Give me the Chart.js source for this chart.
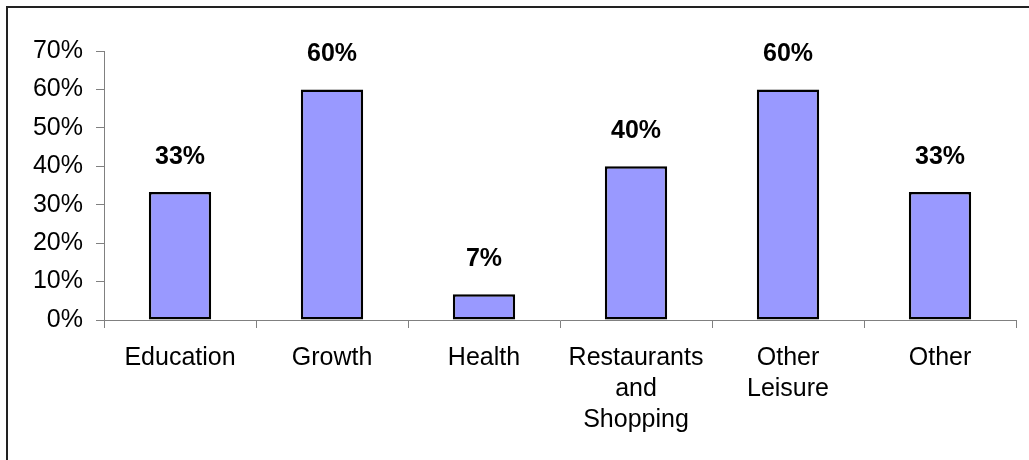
<!DOCTYPE html>
<html>
<head>
<meta charset="utf-8">
<title>Share by category</title>
<script src="https://cdn.jsdelivr.net/npm/chart.js@4/dist/chart.umd.min.js"></script>
<style>
  html, body { margin: 0; padding: 0; background: #fff; }
  canvas { display: block; }
</style>
</head>
<body>
<canvas id="chart" width="1029" height="460"></canvas>
<script>
// categories and percentages
const categories = ['Education', 'Growth', 'Health', ['Restaurants', 'and', 'Shopping'], ['Other', 'Leisure'], 'Other'];
const shares = [33.3, 60, 6.7, 40, 60, 33.3];
const yTicks = [0, 10, 20, 30, 40, 50, 60, 70];

const FONT = '"Liberation Sans", Arial, sans-serif';

// frame around the whole chart
const framePlugin = {
    id: 'frame',
    beforeDraw(chart) {
        const c = chart.ctx;
        c.save();
        c.fillStyle = '#fff';
        c.fillRect(0, 0, chart.width, chart.height);
        c.strokeStyle = '#222';
        c.lineWidth = 2;
        c.strokeRect(7, 7, chart.width + 20, chart.height + 20);
        c.restore();
    }
};

// bold percentage over each bar
const valueLabels = {
    id: 'valueLabels',
    afterDatasetsDraw(chart) {
        const c = chart.ctx;
        const meta = chart.getDatasetMeta(0);
        c.save();
        c.font = 'bold 25px ' + FONT;
        c.fillStyle = '#000';
        c.textAlign = 'center';
        c.textBaseline = 'middle';
        meta.data.forEach((bar, i) => {
            c.fillText(Math.round(shares[i]) + '%', bar.x, bar.y - 35);
        });
        c.restore();
    }
};

new Chart(document.getElementById('chart'), {
    type: 'bar',
    data: {
        labels: categories,
        datasets: [{
            data: shares,
            backgroundColor: '#9999FF',
            borderColor: '#000',
            borderWidth: 2.5,
            borderSkipped: false,
            barPercentage: 0.41,
            categoryPercentage: 1
        }]
    },
    options: {
        responsive: false,
        animation: false,
        layout: { padding: { top: 51, right: 13, left: 0, bottom: 0 } },
        plugins: {
            legend: { display: false },
            tooltip: { enabled: false }
        },
        scales: {
            y: {
                min: 0,
                max: 70,
                afterFit(scale) { scale.width = 104; },
                afterBuildTicks(scale) { scale.ticks = yTicks.map(v => ({ value: v })); },
                border: { color: '#808080', width: 1 },
                grid: { drawOnChartArea: false, drawTicks: true, tickLength: 8, color: '#808080' },
                ticks: {
                    padding: 13,
                    color: '#000',
                    font: { family: FONT, size: 25 },
                    callback: v => v + '%'
                }
            },
            x: {
                afterFit(scale) { scale.height = 140; },
                border: { color: '#808080', width: 1 },
                grid: { offset: true, drawOnChartArea: false, drawTicks: true, tickLength: 8, color: '#808080' },
                ticks: {
                    padding: 15,
                    color: '#000',
                    maxRotation: 0,
                    autoSkip: false,
                    font: { family: FONT, size: 25, lineHeight: 1.24 }
                }
            }
        }
    },
    plugins: [framePlugin, valueLabels]
});
</script>
</body>
</html>
